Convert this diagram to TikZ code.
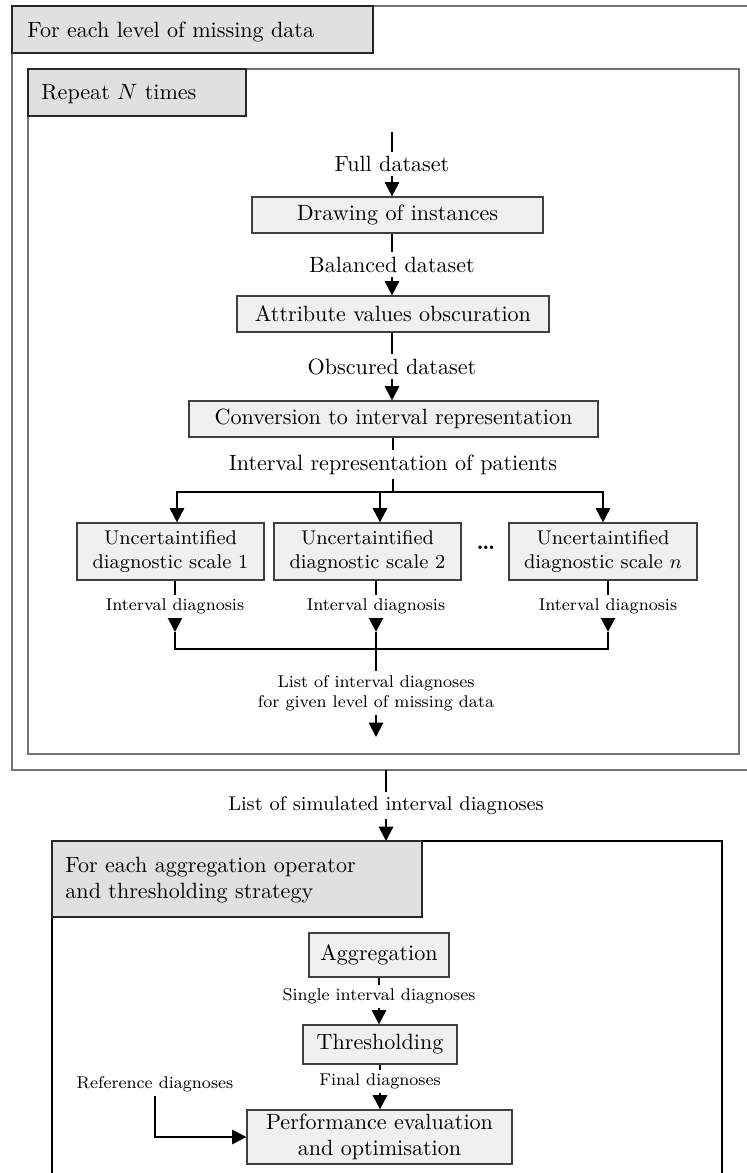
\documentclass[tikz,border=0pt]{standalone}
\usetikzlibrary{arrows.meta,fit}
\newcommand{\lblfont}{\fontsize{7.7}{9.2}\selectfont}
\newcommand{\pxl}{0.4525pt}
\begin{document}
\begin{tikzpicture}[x=0.4525pt, y=-0.4525pt,
  frame/.style={draw=black!55, line width=0.6pt, inner sep=0pt, outer sep=0pt},
  botframe/.style={draw=black, line width=0.6pt, inner sep=0pt, outer sep=0pt},
  tabbox/.style={draw=black!85, fill=black!12, line width=0.6pt, inner sep=0pt},
  tabtext/.style={inner sep=0pt, align=left},
  proc/.style={draw=black!75, fill=black!6, line width=0.55pt, inner sep=0pt, align=center},
  lbl/.style={fill=white, inner sep=2pt},
  slbl/.style={fill=white, inner sep=1.8pt, font=\lblfont, align=center},
  arr/.style={line width=0.9pt, -{Triangle[width=6.5pt,length=6.5pt]}},
  ln/.style={line width=0.9pt}]
\useasboundingbox (0,0) rectangle (747,1173);
\clip (0,0) rectangle (747,1173);

% frames
\node[frame, fit={(12,6) (800,770)}] (outer) {};
\node[frame, fit={(28,69) (739,754)}] (inner) {};
\node[botframe, fit={(52,841) (722,1230)}] (bot) {};

% tabs
\node[tabbox, fit={(12,6) (373,53)}] (tabA) {};
\node[tabtext, anchor=base west] (tabAt) at (27,37) {For each level of missing data};
\node[tabbox, fit={(28,69) (246,116)}] (tabB) {};
\node[tabtext, anchor=base west] (tabBt) at (41,99) {Repeat $N$ times};
\node[tabbox, fit={(52,841) (422,917)}] (tabC) {};
\node[tabtext, anchor=west] (tabCt) at (65,880) {For each aggregation operator\\and thresholding strategy};

% process boxes
\node[proc, minimum width=291*\pxl, minimum height=36*\pxl] (d1) at (397.5,215) {Drawing of instances};
\node[proc, minimum width=312*\pxl, minimum height=36*\pxl] (d2) at (393,314) {Attribute values obscuration};
\node[proc, minimum width=409*\pxl, minimum height=36*\pxl] (d3) at (393.5,419) {Conversion to interval representation};
\node[proc, font=\small, minimum width=187*\pxl, minimum height=57*\pxl] (s1) at (170.5,551.5) {Uncertaintified\\diagnostic scale 1};
\node[proc, font=\small, minimum width=187*\pxl, minimum height=57*\pxl] (s2) at (367.5,551.5) {Uncertaintified\\diagnostic scale 2};
\node[proc, font=\small, minimum width=188*\pxl, minimum height=57*\pxl] (sn) at (603,551.5) {Uncertaintified\\diagnostic scale $n$};
\node[anchor=base, inner sep=0pt] (dots) at (486,549) {\textbf{\dots}};
\node[proc, minimum width=140*\pxl, minimum height=44*\pxl] (agg) at (379,955) {Aggregation};
\node[proc, minimum width=154*\pxl, minimum height=39*\pxl] (thr) at (380,1044.5) {Thresholding};
\node[proc, minimum width=265*\pxl, minimum height=54*\pxl] (perf) at (379.5,1137) {Performance evaluation\\and optimisation};
\node[inner sep=1.5pt, font=\lblfont] (ref) at (155,1084) {Reference diagnoses};

% main flow
\coordinate (in) at (392,132);
\draw[arr] (in) -- node[lbl]{Full dataset} (in |- d1.north);
\draw[arr] (in |- d1.south) -- node[lbl]{Balanced dataset} (in |- d2.north);
\draw[arr] (in |- d2.south) -- node[lbl]{Obscured dataset} (in |- d3.north);
\coordinate (split) at (393,492);
\draw[ln] (split |- d3.south) -- node[lbl]{Interval representation of patients} (split);
\coordinate (b1) at (177,492);
\coordinate (b2) at (380,492);
\coordinate (b3) at (603,492);
\draw[arr] (split) -| (b1 |- s1.north);
\draw[arr] (split) -| (b3 |- sn.north);
\draw[arr] (b2) -- (b2 |- s2.north);

% outputs of scales
\coordinate (c1) at (175,632);
\coordinate (c2) at (376,632);
\coordinate (c3) at (608,632);
\draw[arr] (c1 |- s1.south) -- node[slbl]{Interval diagnosis} (c1);
\draw[arr] (c2 |- s2.south) -- node[slbl]{Interval diagnosis} (c2);
\draw[arr] (c3 |- sn.south) -- node[slbl]{Interval diagnosis} (c3);
\coordinate (m) at (376,649);
\coordinate (out) at (376,737);
\draw[ln] (c1) |- (m) -| (c3);
\draw[ln] (c2) -- (m);
\draw[arr] (m) -- node[slbl]{List of interval diagnoses\\for given level of missing data} (out);

% to second stage
\coordinate (xo) at (386,0);
\draw[arr] (outer.south -| xo) -- node[lbl, font=\small]{List of simulated interval diagnoses} (bot.north -| xo);

% second stage
\draw[arr] (agg.south) -- node[slbl, pos=0.4]{Single interval diagnoses} (agg.south |- thr.north);
\draw[arr] (thr.south) -- node[slbl, pos=0.37]{Final diagnoses} (thr.south |- perf.north);
\draw[arr] (ref.south) |- (perf.west);
\end{tikzpicture}
\end{document}
